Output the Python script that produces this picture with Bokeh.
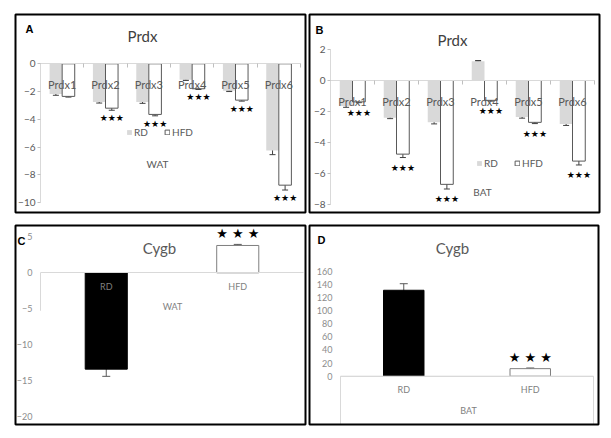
from bokeh.plotting import figure
from bokeh.models import (Range1d, LinearAxis, FixedTicker, Whisker, TeeHead, ColumnDataSource,
                          Legend, LegendItem, Label, BoxAnnotation)
from bokeh.embed import file_html
from bokeh.resources import INLINE
from bokeh.core.properties import value

# ---------------- data ----------------
prdx_genes = ["Prdx1", "Prdx2", "Prdx3", "Prdx4", "Prdx5", "Prdx6"]
groups = ["RD", "HFD"]

wat_prdx_rd = [-2.17, -2.75, -2.75, -1.15, -1.95, -6.25]
wat_prdx_rd_err = [0.10, 0.08, 0.10, 0.05, 0.05, 0.30]
wat_prdx_hfd = [-2.35, -3.20, -3.65, -1.80, -2.62, -8.75]
wat_prdx_hfd_err = [0.05, 0.15, 0.10, 0.05, 0.07, 0.35]
wat_prdx_sig = ["", "★★★", "★★★", "★★★", "★★★", "★★★"]
wat_prdx_ticks = [0, -2, -4, -6, -8, -10]

bat_prdx_rd = [-1.65, -2.40, -2.70, 1.25, -2.35, -2.80]
bat_prdx_rd_err = [0.08, 0.06, 0.10, 0.04, 0.08, 0.10]
bat_prdx_hfd = [-1.38, -4.75, -6.70, -1.28, -2.70, -5.20]
bat_prdx_hfd_err = [0.05, 0.22, 0.30, 0.05, 0.08, 0.25]
bat_prdx_sig = ["★★★"] * 6
bat_prdx_ticks = [2, 0, -2, -4, -6, -8]

wat_cygb = [-13.4, 3.8]
wat_cygb_err = [1.0, 0.15]
wat_cygb_sig = ["", "★ ★ ★"]
wat_cygb_ticks = [5, 0, -5, -10, -15, -20]

bat_cygb = [131.0, 11.5]
bat_cygb_err = [10.0, 1.0]
bat_cygb_sig = ["", "★ ★ ★"]
bat_cygb_ticks = [0, 20, 40, 60, 80, 100, 120, 140, 160]

FONT = "Lato"
LETTER_FONT = "Liberation Sans"

# ---------------- one canvas, four panels ----------------
W, H = 603, 430
OFF = 0  # canvas origin in picture pixels

p = figure(width=W, height=H, x_range=Range1d(0, W), y_range=Range1d(0, H),
           output_backend="svg", toolbar_location=None, min_border=0,
           x_axis_location=None, y_axis_location=None)
p.grid.visible = False
p.outline_line_color = None
p.background_fill_color = "white"
p.border_fill_color = "white"

xr, yr = {}, {}


class Panel:
    """A panel's own scales: picture pixel of data zero and pixels per data unit."""

    def __init__(self, name, x0, xppu, y0, yppu):
        self.xn, self.yn = name + "_x", name + "_y"
        self.x0, self.xppu, self.y0, self.yppu = x0, xppu, y0, yppu
        cx0, cy0 = x0 - OFF, y0 - OFF
        xr[self.xn] = Range1d(-cx0 / xppu, (W - cx0) / xppu)
        yr[self.yn] = Range1d(-(H - cy0) / yppu, cy0 / yppu)

    def dx(self, px):
        return (px - self.x0) / self.xppu

    def dy(self, py):
        return (self.y0 - py) / self.yppu

    @property
    def kw(self):
        return dict(x_range_name=self.xn, y_range_name=self.yn)


PA = Panel("a", 40, 43.33, 63.3, 13.87)
PB = Panel("b", 330, 44.0, 80.0, 15.5)
PC = Panel("c", 40, 131.5, 272.3, 7.19)
PD = Panel("d", 340, 126.5, 375.7, 0.656)
p.extra_x_ranges = xr
p.extra_y_ranges = yr


def border(P, l, t, r, b):
    p.add_layout(BoxAnnotation(left=P.dx(l), right=P.dx(r), top=P.dy(t), bottom=P.dy(b),
                               fill_alpha=0, line_color="black", line_alpha=1,
                               line_width=2, **P.kw))


def label(P, text, px, py, size, color="#404040", bold=False, font=FONT):
    p.add_layout(Label(text=text, x=P.dx(px), y=P.dy(py), text_align="center",
                       text_baseline="middle", text_font=font, text_font_size=size,
                       text_color=color, text_font_style="bold" if bold else "normal",
                       **P.kw))


def prdx_panel(P, rd, rd_err, hfd, hfd_err, sig, ticks, letter, letter_pos, title_pos,
               tissue, tissue_pos, legend_pos, star_off):
    n = len(prdx_genes)
    centers = [i + 0.5 for i in range(n)]
    bw = 0.29
    src_rd = ColumnDataSource(dict(x=[c - bw / 2 for c in centers], top=rd,
                                   lo=[v - e for v, e in zip(rd, rd_err)],
                                   hi=[v + e for v, e in zip(rd, rd_err)]))
    src_hfd = ColumnDataSource(dict(x=[c + bw / 2 for c in centers], top=hfd,
                                    lo=[v - e for v, e in zip(hfd, hfd_err)],
                                    hi=[v + e for v, e in zip(hfd, hfd_err)],
                                    sig=sig))
    r1 = p.vbar(x="x", top="top", bottom=0, width=bw, source=src_rd,
                fill_color="#d9d9d9", line_color=None, **P.kw)
    r2 = p.vbar(x="x", top="top", bottom=0, width=bw, source=src_hfd,
                fill_color="white", line_color="#595959", line_width=1, **P.kw)
    for s in (src_rd, src_hfd):
        p.add_layout(Whisker(base="x", upper="hi", lower="lo", source=s,
                             line_color="#404040", line_width=1,
                             upper_head=TeeHead(size=6, line_color="#404040"),
                             lower_head=TeeHead(size=6, line_color="#404040"), **P.kw))
    p.text(x="x", y="lo", text="sig", source=src_hfd, text_align="center",
           text_baseline="top", y_offset=star_off, text_font=value("DejaVu Sans"),
           text_font_size="9px", text_color="black", **P.kw)

    yax = LinearAxis(ticker=FixedTicker(ticks=ticks), fixed_location=0,
                     bounds=(min(ticks), max(ticks)),
                     axis_line_color="#d9d9d9", major_tick_line_color="#bfbfbf",
                     major_tick_in=0, major_tick_out=3, minor_tick_line_color=None,
                     major_label_text_font=FONT, major_label_text_font_size="10px",
                     major_label_text_color="#595959", major_label_standoff=2, **P.kw)
    p.add_layout(yax, "left")
    xax = LinearAxis(ticker=FixedTicker(ticks=centers, minor_ticks=list(range(n + 1))),
                     fixed_location=0, bounds=(0, n),
                     major_label_overrides={c: g for c, g in zip(centers, prdx_genes)},
                     axis_line_color="#d9d9d9", major_tick_line_color=None,
                     major_tick_in=0, major_tick_out=0,
                     minor_tick_line_color="#bfbfbf", minor_tick_in=0, minor_tick_out=4,
                     major_label_text_font=FONT, major_label_text_font_size="11px",
                     major_label_text_color="#595959", major_label_standoff=10, **P.kw)
    p.add_layout(xax, "below")

    legend = Legend(items=[LegendItem(label="RD", renderers=[r1]),
                           LegendItem(label="HFD", renderers=[r2])],
                    orientation="horizontal",
                    location=(legend_pos[0] - OFF, H - (legend_pos[1] - OFF) - 5),
                    border_line_color=None, background_fill_alpha=0, padding=0, margin=0,
                    spacing=10, glyph_width=6, glyph_height=6, label_standoff=2,
                    label_text_font=FONT, label_text_font_size="10px",
                    label_text_color="#595959", label_height=10)
    p.add_layout(legend)

    label(P, "Prdx", title_pos[0], title_pos[1], "15px", color="#404040")
    label(P, letter, letter_pos[0], letter_pos[1], "11px", color="black", bold=True,
          font=LETTER_FONT)
    label(P, tissue, tissue_pos[0], tissue_pos[1], "10px", color="#595959")


def cygb_panel(P, vals, errs, sig, ticks, letter, letter_pos, title_pos, tissue,
               tissue_pos, box_right, box_bottom):
    centers = [i + 0.5 for i in range(len(groups))]
    src = ColumnDataSource(dict(x=centers, top=vals,
                                lo=[v - e for v, e in zip(vals, errs)],
                                hi=[v + e for v, e in zip(vals, errs)],
                                sig=sig,
                                fill=["black", "white"],
                                line=["black", "#7f7f7f"]))
    # category-axis frame below the zero line
    p.add_layout(BoxAnnotation(left=0, right=box_right, top=0, bottom=P.dy(box_bottom),
                               fill_alpha=0, line_color="#d9d9d9", line_alpha=1,
                               line_width=1, **P.kw))
    p.vbar(x="x", top="top", bottom=0, width=0.32, source=src,
           fill_color="fill", line_color="line", line_width=1, **P.kw)
    p.add_layout(Whisker(base="x", upper="hi", lower="lo", source=src,
                         line_color="#595959", line_width=1,
                         upper_head=TeeHead(size=8, line_color="#595959"),
                         lower_head=TeeHead(size=8, line_color="#595959"), **P.kw))
    p.text(x="x", y="hi", text="sig", source=src, text_align="center",
           text_baseline="bottom", y_offset=-3, text_font=value("DejaVu Sans"),
           text_font_size="13px", text_color="black", **P.kw)

    yax = LinearAxis(ticker=FixedTicker(ticks=ticks), fixed_location=0,
                     axis_line_color=None, major_tick_line_color=None,
                     major_tick_in=0, major_tick_out=0, minor_tick_line_color=None,
                     major_label_text_font=FONT, major_label_text_font_size="9px",
                     major_label_text_color="#8c8c8c", major_label_standoff=8, **P.kw)
    p.add_layout(yax, "left")
    xax = LinearAxis(ticker=FixedTicker(ticks=centers), fixed_location=0,
                     bounds=(0, len(groups)),
                     major_label_overrides={c: g for c, g in zip(centers, groups)},
                     axis_line_color="#d9d9d9", major_tick_line_color=None,
                     major_tick_in=0, major_tick_out=0, minor_tick_line_color=None,
                     major_label_text_font=FONT, major_label_text_font_size="9px",
                     major_label_text_color="#7f7f7f", major_label_standoff=8, **P.kw)
    p.add_layout(xax, "below")

    label(P, "Cygb", title_pos[0], title_pos[1], "15px", color="#595959")
    label(P, letter, letter_pos[0], letter_pos[1], "11px", color="black", bold=True,
          font=LETTER_FONT)
    label(P, tissue, tissue_pos[0], tissue_pos[1], "9px", color="#7f7f7f")


# panel A (WAT Prdx)
prdx_panel(PA, wat_prdx_rd, wat_prdx_rd_err, wat_prdx_hfd, wat_prdx_hfd_err,
           wat_prdx_sig, wat_prdx_ticks, "A", (29, 28), (142, 35), "WAT", (157, 163),
           (126, 133), 3)
border(PA, 15, 14, 305, 212)

# panel B (BAT Prdx)
prdx_panel(PB, bat_prdx_rd, bat_prdx_rd_err, bat_prdx_hfd, bat_prdx_hfd_err,
           bat_prdx_sig, bat_prdx_ticks, "B", (319, 29), (452, 39), "BAT", (482, 191),
           (476, 164), 5)
border(PB, 309, 14, 599, 212)

# panel C (WAT Cygb): only the left edge of the category frame shows
cygb_panel(PC, wat_cygb, wat_cygb_err, wat_cygb_sig, wat_cygb_ticks,
           "C", (21, 240), (159, 247), "WAT", (172, 306), 0, 310)
border(PC, 15, 225, 305, 424)

# panel D (BAT Cygb)
cygb_panel(PD, bat_cygb, bat_cygb_err, bat_cygb_sig, bat_cygb_ticks,
           "D", (321, 239), (452, 247), "BAT", (468, 410), len(groups), 424)
border(PD, 309, 225, 598, 424)

open("out.html", "w").write(file_html(p, INLINE))
